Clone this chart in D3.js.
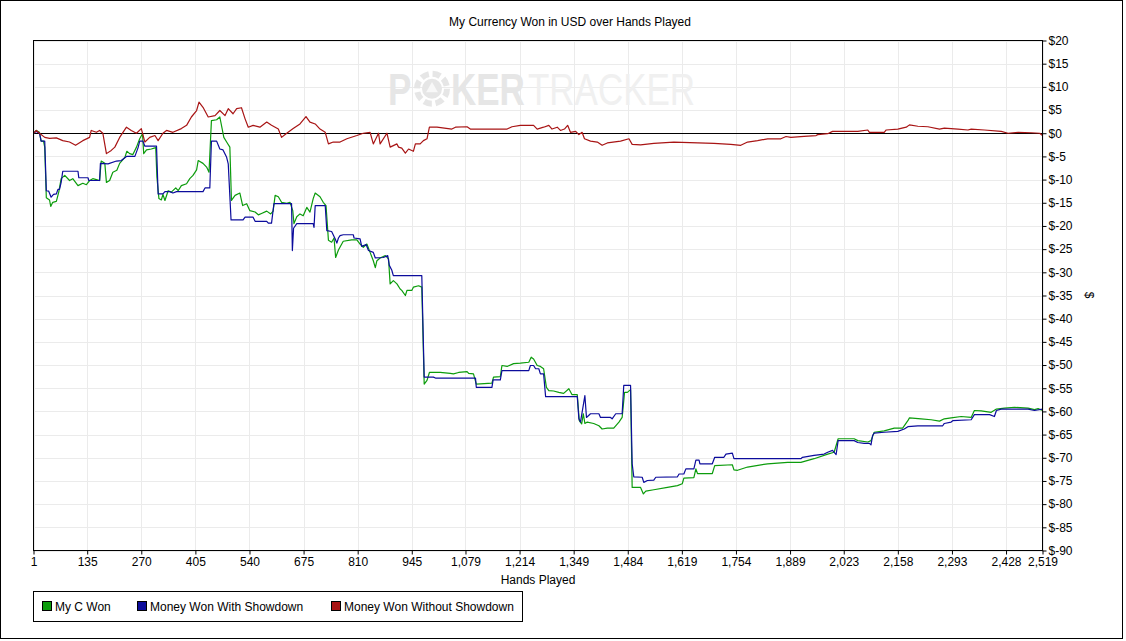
<!DOCTYPE html>
<html>

<head>
  <title>My Currency Won in USD over Hands Played</title>
  <script src="https://unpkg.com/d3@7.8.2/dist/d3.min.js"></script>
  <style>
    body { margin: 0; background: #fff; }
    text { font-family: "Liberation Sans", Arial, sans-serif; fill: #000; }
  </style>
</head>

<body>
  <script>

    // x axis ticks (hands played) and y axis ticks (dollars)
    const xTicks = [1, 135, 270, 405, 540, 675, 810, 945, 1079, 1214, 1349, 1484, 1619, 1754, 1889, 2023, 2158, 2293, 2428, 2519];
    const yTicks = [20, 15, 10, 5, 0, -5, -10, -15, -20, -25, -30, -35, -40, -45, -50, -55, -60, -65, -70, -75, -80, -85, -90];

    const seriesNames = ["My C Won", "Money Won With Showdown", "Money Won Without Showdown"];
    const seriesColors = ["#0c9c0c", "#0c0c9c", "#a81414"];

    // [hand, dollars]
    const myCWon = [
      [1, 0], [8, 0.6], [16, 0.2], [20, -1.7], [26, -1.7], [29, -3], [33, -13.9], [41, -14.4], [44, -15.8], [49, -14.9],
      [58, -14.7], [64, -12.7], [70, -9.8], [79, -9.1], [91, -10.2], [99, -9.8], [112, -11.3], [124, -10.8], [133, -11.1],
      [141, -10.2], [149, -9.8], [158, -10], [166, -10.2], [170, -6], [179, -6.5], [183, -10.6], [191, -10.2], [199, -8.4],
      [209, -8], [216, -6.5], [229, -5.2], [234, -3.9], [241, -4.4], [249, -4.6], [258, -3], [266, -1.2], [273, -0.1],
      [276, -4.4], [283, -3.6], [295, -3.4], [306, -3.1], [309, -9.5], [314, -14.1], [320, -14.4], [324, -13.2], [329, -14.5],
      [337, -12.4], [345, -12.7], [356, -11.8], [362, -12.4], [370, -11.3], [383, -10.9], [391, -9.8], [399, -9.1], [408, -7.9],
      [412, -5.9], [424, -6.5], [433, -7.3], [439, -8.4], [445, 2.7], [458, 2.9], [466, 3.5], [476, -0.9], [483, -1.9],
      [491, -3], [495, -14.5], [504, -13.4], [516, -12.9], [523, -15.6], [533, -15.2], [541, -16.7], [554, -17], [562, -17.6],
      [570, -17.3], [583, -16.8], [593, -17.4], [599, -16.8], [604, -13.4], [612, -13.7], [620, -14.9], [633, -15.1],
      [641, -14.9], [648, -16.7], [651, -19.5], [658, -18], [666, -17.4], [674, -17.8], [683, -16], [691, -17], [699, -14.1],
      [704, -12.9], [716, -13.7], [724, -14.9], [731, -15.6], [737, -23.1], [745, -23.5], [751, -22.6], [755, -26.8],
      [762, -25.2], [774, -23.3], [795, -23], [808, -23], [816, -23.9], [824, -24.6], [833, -23.9], [841, -25.7], [849, -27.5],
      [854, -29], [858, -27.5], [866, -26.9], [879, -26.4], [887, -27.1], [891, -32.5], [899, -31.8], [908, -32.5],
      [916, -33.6], [920, -33.9], [929, -35], [933, -33.9], [945, -33.9], [949, -33.2], [962, -32.9], [970, -33.2],
      [976, -54.1], [983, -53.3], [989, -51.6], [1016, -51.6], [1041, -51.8], [1049, -51.9], [1062, -51.6], [1083, -51.4],
      [1087, -51.8], [1099, -51.9], [1106, -54.1], [1145, -53.9], [1149, -52.6], [1166, -52.5], [1170, -50.1], [1183, -50.3],
      [1199, -49.7], [1216, -49.6], [1237, -49.4], [1243, -48.3], [1249, -48.7], [1258, -50.1], [1266, -50.3], [1274, -50.8],
      [1281, -54.8], [1287, -55.5], [1299, -55.6], [1312, -55.9], [1324, -56.1], [1337, -55.1], [1345, -56.4], [1358, -56.4],
      [1363, -62], [1369, -62.7], [1373, -60.5], [1377, -62.6], [1383, -62.3], [1399, -62.6], [1412, -63.1], [1420, -63.8],
      [1433, -63.6], [1449, -63.6], [1462, -62.3], [1470, -61.3], [1476, -55.9], [1483, -55.9], [1491, -55.3], [1495, -76.4],
      [1516, -76.4], [1523, -77.8], [1529, -77.2], [1549, -76.9], [1583, -76.4], [1608, -76], [1620, -75.6], [1624, -74.4],
      [1649, -74.3], [1654, -72.4], [1658, -73.4], [1695, -73.4], [1701, -71.7], [1745, -71.5], [1749, -72.6], [1758, -72.7],
      [1783, -72], [1833, -71.3], [1883, -71], [1916, -71], [1949, -70.2], [1983, -69.2], [1999, -68.8], [2009, -65.9],
      [2049, -65.9], [2058, -66.3], [2083, -66.6], [2091, -66.3], [2099, -64.5], [2124, -64.2], [2149, -63.6], [2170, -63.6],
      [2183, -62], [2187, -61.4], [2216, -61.6], [2241, -61.8], [2262, -62.1], [2274, -61.6], [2291, -61.4], [2316, -61.1],
      [2341, -61.3], [2349, -59.8], [2366, -59.9], [2391, -60.2], [2404, -59.5], [2424, -59.3], [2449, -59.1], [2483, -59.3],
      [2499, -59.6], [2508, -59.4], [2519, -59.8]
    ];

    const withShowdown = [
      [1, 0], [8, 0.4], [16, 0], [20, -1.7], [29, -1.7], [33, -12.4], [39, -12.5], [45, -13.8], [51, -13.2], [58, -13.1],
      [62, -12.1], [66, -12.1], [70, -10.6], [74, -8.2], [112, -8.2], [114, -9.6], [137, -9.6], [139, -10.2], [166, -10.2],
      [168, -6.5], [187, -6.6], [208, -6], [220, -5.9], [233, -5], [254, -5], [262, -3.1], [266, -1.7], [274, -1.7],
      [279, -2.8], [308, -2.8], [312, -13.1], [324, -13.1], [329, -12.6], [341, -12.6], [349, -12.9], [358, -12.6],
      [424, -12.6], [429, -11.8], [441, -11.8], [445, -1.7], [458, -1.7], [466, -3.4], [474, -3.6], [483, -5.2], [487, -6.6],
      [494, -18.7], [524, -18.7], [529, -18.1], [549, -18.1], [554, -19], [583, -19], [587, -19.4], [595, -19.4],
      [601, -15.2], [645, -15.2], [647, -25.3], [650, -20.5], [658, -19.5], [699, -19.5], [701, -20.3], [704, -15.6],
      [729, -15.6], [733, -21], [745, -21.2], [754, -22.8], [758, -23.7], [762, -22.6], [766, -22.1], [774, -21.9],
      [799, -21.9], [801, -22.6], [816, -22.8], [820, -24.4], [831, -24], [837, -25.3], [849, -25.7], [854, -26.9],
      [874, -26.8], [885, -26.4], [889, -28.5], [895, -29.5], [899, -30.7], [970, -30.7], [976, -52.6], [999, -52.6],
      [1004, -52.8], [1104, -52.8], [1106, -54.8], [1145, -54.8], [1148, -53.2], [1166, -53.2], [1170, -51.2], [1237, -51.2],
      [1241, -50.1], [1249, -50.1], [1254, -50.8], [1262, -50.8], [1266, -51.9], [1274, -51.9], [1279, -56.8], [1358, -56.8],
      [1362, -61.6], [1366, -62.3], [1377, -56.6], [1381, -61.3], [1391, -60.5], [1412, -60.5], [1416, -61.3], [1441, -61.3],
      [1445, -61.6], [1454, -60.5], [1470, -60.5], [1474, -54.4], [1491, -54.4], [1495, -71.3], [1499, -74.1], [1520, -74.2],
      [1524, -75.3], [1533, -74.9], [1549, -74.8], [1554, -74.2], [1608, -74.1], [1612, -73.5], [1624, -73.5], [1629, -72.4],
      [1649, -72.4], [1654, -70.5], [1662, -70.5], [1664, -71.3], [1695, -71.3], [1701, -69.9], [1724, -69.9], [1729, -69.2],
      [1745, -69], [1749, -70.2], [1916, -70.2], [1920, -69.9], [1949, -69.5], [1974, -69.2], [1983, -68.8], [1995, -68.4],
      [2004, -69.3], [2009, -66.3], [2049, -66.3], [2058, -66.7], [2074, -66.9], [2087, -66.9], [2091, -67.2], [2095, -65.2],
      [2099, -64.7], [2124, -64.5], [2158, -64.3], [2174, -63.8], [2183, -63.3], [2208, -63.1], [2270, -63.1], [2274, -62.6],
      [2291, -62.3], [2295, -62], [2341, -61.8], [2349, -60.7], [2387, -60.7], [2399, -61.1], [2404, -59.8], [2416, -59.5],
      [2483, -59.5], [2499, -59.8], [2519, -59.5]
    ];

    const withoutShowdown = [
      [1, 0], [8, 0.6], [16, 0], [29, -0.9], [41, -1.1], [58, -1], [74, -1.6], [91, -1.9], [106, -2.6], [124, -1.6],
      [141, -0.9], [145, 0.6], [158, 0.2], [166, 0.6], [174, 0], [183, -4.4], [195, -3.7], [204, -3], [216, -0.9], [233, 1.3],
      [245, 0.6], [258, 0], [270, 1], [279, -1.9], [291, -0.9], [304, -0.5], [312, -1.6], [324, 0], [333, 0.6], [349, 0.2],
      [370, 1], [383, 1.7], [395, 3.5], [408, 4.9], [414, 6.7], [424, 5.6], [437, 3.5], [454, 3.8], [466, 4.9], [479, 3.8],
      [487, 5.3], [499, 4.2], [508, 5.3], [520, 5.5], [529, 3.1], [537, 1.3], [549, 1.7], [566, 1.3], [583, 2.4], [595, 1.7],
      [612, 0.9], [620, -0.9], [633, 0], [649, 1], [666, 2], [681, 3.6], [691, 2.4], [704, 2], [716, 0.9], [729, 0.2],
      [737, -2.3], [749, -1.9], [766, -1.9], [783, -1.2], [808, -0.5], [824, 0], [841, 0.2], [849, -2.3], [862, 0],
      [866, -2.3], [883, 0], [891, -3], [908, -2.3], [912, -3], [920, -3.2], [929, -4.3], [937, -3.4], [949, -3.9],
      [954, -2.3], [966, -2.3], [974, -1.6], [983, -1.2], [989, 1.3], [1008, 1.3], [1045, 0.9], [1054, 1.3], [1083, 1.4],
      [1091, 0.9], [1183, 0.9], [1195, 1.4], [1216, 1.7], [1249, 1.7], [1258, 0.9], [1274, 1.3], [1287, 1.7], [1295, 0.9],
      [1308, 1.3], [1316, 0.6], [1326, 0.9], [1334, 1.7], [1341, 0.2], [1354, 0.4], [1362, -0.3], [1370, 0.2], [1376, -1.2],
      [1391, -1.7], [1408, -1.9], [1420, -2.6], [1433, -2.1], [1466, -1.7], [1487, -1.2], [1495, -2.4], [1516, -2.5],
      [1549, -2.2], [1599, -1.9], [1699, -2.2], [1741, -2.4], [1766, -2.6], [1783, -1.9], [1808, -1.6], [1833, -1.2],
      [1866, -1.2], [1879, -0.7], [1891, -0.9], [1924, -0.7], [1954, -0.5], [1958, -0.3], [1983, -0.1], [1995, 0.4],
      [2058, 0.4], [2083, 0.7], [2087, 0.2], [2124, 0.2], [2129, 0.7], [2158, 0.9], [2179, 1.3], [2187, 1.8], [2208, 1.5],
      [2233, 1.4], [2262, 0.9], [2274, 1.1], [2308, 0.9], [2333, 0.7], [2341, 0.9], [2374, 0.7], [2416, 0.4], [2433, 0],
      [2458, 0.2], [2491, 0.1], [2512, 0], [2519, -0.5]
    ];

    const series = [myCWon, withShowdown, withoutShowdown];

    const width = 1126;
    const height = 641;
    const plot = { left: 33.5, right: 1042.5, top: 40.5, bottom: 550.5 };

    const svg = d3.select("body").append("svg")
      .attr("width", width)
      .attr("height", height);

    // outer frame
    svg.append("rect")
      .attr("x", 0.5).attr("y", 0.5)
      .attr("width", 1122).attr("height", 638)
      .style("fill", "#fff")
      .style("stroke", "#000");

    const x = d3.scaleLinear().domain([1, 2519]).range([plot.left, plot.right]);
    const y = d3.scaleLinear().domain([-90, 20]).range([plot.bottom, plot.top]);

    // grid
    svg.append("g").selectAll("line")
      .data(yTicks)
      .enter().append("line")
      .attr("x1", plot.left).attr("x2", plot.right)
      .attr("y1", d => Math.round(y(d)) + 0.5).attr("y2", d => Math.round(y(d)) + 0.5)
      .style("stroke", "#ebebeb");

    svg.append("g").selectAll("line")
      .data(xTicks)
      .enter().append("line")
      .attr("x1", d => Math.round(x(d)) + 0.5).attr("x2", d => Math.round(x(d)) + 0.5)
      .attr("y1", plot.top).attr("y2", plot.bottom)
      .style("stroke", "#ebebeb");

    // watermark
    const wm = svg.append("g").attr("transform", "translate(388,105) scale(1,1.25)");
    wm.append("text").text("P")
      .attr("x", 0).attr("y", 0)
      .style("font-size", "35px").style("font-weight", "bold")
      .style("fill", "#e6e6e6");
    const chip = wm.append("g").attr("transform", "translate(44,-13) scale(1,0.8)");
    chip.append("circle").attr("r", 15)
      .style("fill", "none").style("stroke", "#e6e6e6").style("stroke-width", 6)
      .style("stroke-dasharray", "8 3.8");
    chip.append("circle").attr("r", 10).style("fill", "#e6e6e6");
    chip.append("path")
      .attr("d", d3.symbol(d3.symbolTriangle, 60)())
      .style("fill", "#f8f8f8");
    const wmText = wm.append("text")
      .attr("x", 63).attr("y", 0)
      .style("font-size", "35px");
    wmText.append("tspan").text("KER")
      .style("font-weight", "bold")
      .style("fill", "#e6e6e6");
    wmText.append("tspan").text("TRACKER")
      .attr("dx", 3)
      .style("fill", "#f0f0f0");

    // zero line
    svg.append("line")
      .attr("x1", plot.left).attr("x2", plot.right)
      .attr("y1", Math.round(y(0)) + 0.5).attr("y2", Math.round(y(0)) + 0.5)
      .style("stroke", "#000");

    // series lines
    const line = d3.line()
      .x(d => x(d[0]))
      .y(d => y(d[1]));

    svg.append("g").selectAll("path")
      .data(series)
      .enter().append("path")
      .attr("d", line)
      .style("fill", "none")
      .style("stroke", (d, i) => seriesColors[i])
      .style("stroke-width", 1.2)
      .style("stroke-linejoin", "round");

    // plot frame
    svg.append("rect")
      .attr("x", plot.left).attr("y", plot.top)
      .attr("width", plot.right - plot.left).attr("height", plot.bottom - plot.top)
      .style("fill", "none").style("stroke", "#000");

    // right y axis
    const yAxis = d3.axisRight(y)
      .tickValues(yTicks)
      .tickSize(4)
      .tickPadding(2)
      .tickFormat(d => "$" + d);
    const gy = svg.append("g")
      .attr("transform", `translate(${plot.right},0)`)
      .call(yAxis);
    gy.select(".domain").remove();
    gy.selectAll("text").style("font-size", "12px").style("font-family", "Liberation Sans, Arial, sans-serif");

    // bottom x axis
    const xAxis = d3.axisBottom(x)
      .tickValues(xTicks)
      .tickSize(4)
      .tickPadding(3)
      .tickFormat(d3.format(","));
    const gx = svg.append("g")
      .attr("transform", `translate(0,${plot.bottom})`)
      .call(xAxis);
    gx.select(".domain").remove();
    gx.selectAll("text").style("font-size", "12px").style("font-family", "Liberation Sans, Arial, sans-serif");

    // titles
    svg.append("text")
      .text("My Currency Won in USD over Hands Played")
      .attr("x", 570).attr("y", 26)
      .attr("text-anchor", "middle")
      .style("font-size", "12px");

    svg.append("text")
      .text("Hands Played")
      .attr("x", 538).attr("y", 584)
      .attr("text-anchor", "middle")
      .style("font-size", "12px");

    svg.append("text")
      .text("$")
      .attr("transform", "translate(1085,295) rotate(90)")
      .attr("text-anchor", "middle")
      .style("font-size", "12px");

    // legend
    svg.append("rect")
      .attr("x", 33.5).attr("y", 591.5)
      .attr("width", 489).attr("height", 30)
      .style("fill", "#fff").style("stroke", "#000");

    const legendX = [42, 137, 331];
    const legend = svg.append("g").selectAll("g")
      .data(seriesNames)
      .enter().append("g")
      .attr("transform", (d, i) => `translate(${legendX[i]},601)`);

    legend.append("rect")
      .attr("x", 0.5).attr("y", 0.5)
      .attr("width", 9).attr("height", 9)
      .style("fill", (d, i) => seriesColors[i])
      .style("stroke", "#000");

    legend.append("text")
      .text(d => d)
      .attr("x", 13).attr("y", 10)
      .style("font-size", "12px");

  </script>
</body>

</html>
